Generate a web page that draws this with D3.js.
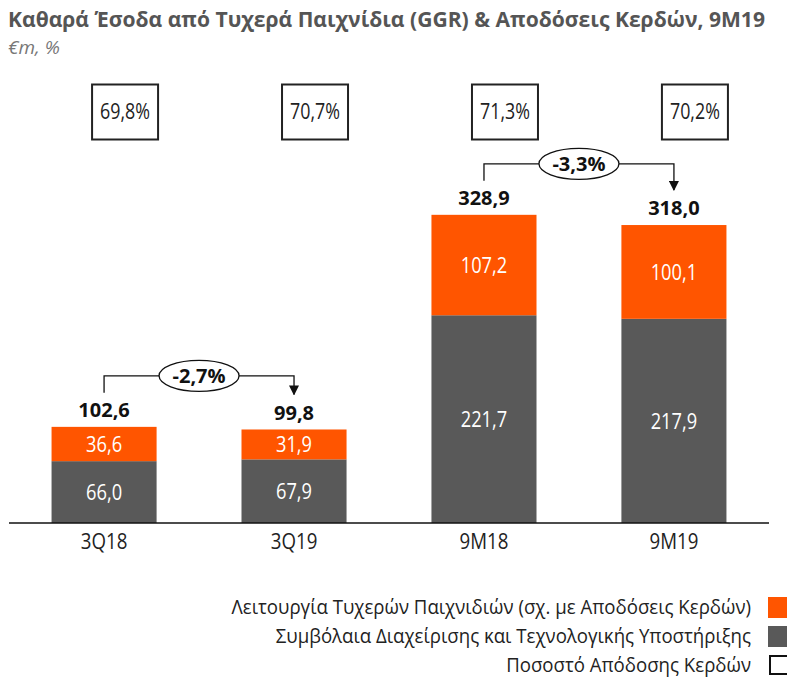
<!DOCTYPE html>
<html>
<head>
<meta charset="utf-8">
<script src="https://cdn.jsdelivr.net/npm/d3@7"></script>
<style>
  body { margin: 0; background: #fff; }
  text { font-family: "Open Sans", "Noto Sans", sans-serif; }
</style>
</head>
<body>
<div id="chart"></div>
<script>
// data
const categories = ["3Q18", "3Q19", "9M18", "9M19"];
const techValues = [66.0, 67.9, 221.7, 217.9];     // Συμβόλαια Διαχείρισης...
const gamingValues = [36.6, 31.9, 107.2, 100.1];   // Λειτουργία Τυχερών Παιχνιδιών
const totals = [102.6, 99.8, 328.9, 318.0];
const payoutPct = ["69,8%", "70,7%", "71,3%", "70,2%"];
const changes = [
  { from: 0, to: 1, label: "-2,7%" },
  { from: 2, to: 3, label: "-3,3%" }
];
const legendItems = [
  { label: "Λειτουργία Τυχερών Παιχνιδιών (σχ. με Αποδόσεις Κερδών)", type: "gaming" },
  { label: "Συμβόλαια Διαχείρισης και Τεχνολογικής Υποστήριξης", type: "tech" },
  { label: "Ποσοστό Απόδοσης Κερδών", type: "box" }
];

const fmt = v => v.toFixed(1).replace(".", ",");
const orange = "#FF5500", grey = "#595959";

// the source font is narrow, so squeeze the regular texts a bit
function squeeze(sel, k) {
  sel.each(function() {
    const w = this.getComputedTextLength();
    d3.select(this).attr("textLength", w * k).attr("lengthAdjust", "spacingAndGlyphs");
  });
}

const width = 787, height = 677;
const baseY = 523;

const svg = d3.select("#chart").append("svg")
    .attr("width", width)
    .attr("height", height);

// title
svg.append("text")
    .attr("x", 8).attr("y", 27)
    .attr("font-size", 20.5).attr("font-weight", "bold")
    .attr("fill", "#555")
    .attr("textLength", 757).attr("lengthAdjust", "spacingAndGlyphs")
    .text("Καθαρά Έσοδα από Τυχερά Παιχνίδια (GGR) & Αποδόσεις Κερδών, 9M19");
svg.append("text")
    .attr("x", 8).attr("y", 54)
    .attr("font-size", 19).attr("font-style", "italic")
    .attr("fill", "#777")
    .text("€m, %");

const x = d3.scaleBand()
    .domain(categories)
    .range([9, 769])
    .paddingInner(0.447)
    .paddingOuter(0.224);

const y = d3.scaleLinear()
    .domain([0, 350])
    .range([baseY, baseY - 350 * 0.937]);

const rows = categories.map((c, i) => ({
  cat: c, tech: techValues[i], gaming: gamingValues[i], total: totals[i], pct: payoutPct[i]
}));
const cx = d => x(d.cat) + x.bandwidth() / 2;

const bars = svg.append("g");
// grey segment
bars.selectAll(".tech").data(rows).join("rect")
    .attr("x", d => x(d.cat))
    .attr("width", x.bandwidth())
    .attr("y", d => y(d.tech))
    .attr("height", d => y(0) - y(d.tech))
    .attr("fill", grey);
// orange segment
bars.selectAll(".gaming").data(rows).join("rect")
    .attr("x", d => x(d.cat))
    .attr("width", x.bandwidth())
    .attr("y", d => y(d.tech + d.gaming))
    .attr("height", d => y(d.tech) - y(d.tech + d.gaming))
    .attr("fill", orange);

// segment labels
bars.selectAll(".tl").data(rows).join("text")
    .attr("x", cx)
    .attr("y", d => y(d.tech / 2))
    .attr("dy", "0.36em")
    .attr("text-anchor", "middle")
    .attr("font-size", 22).attr("fill", "#fff")
    .text(d => fmt(d.tech))
    .call(squeeze, 0.83);
bars.selectAll(".gl").data(rows).join("text")
    .attr("x", cx)
    .attr("y", d => y(d.tech + d.gaming / 2))
    .attr("dy", "0.36em")
    .attr("text-anchor", "middle")
    .attr("font-size", 22).attr("fill", "#fff")
    .text(d => fmt(d.gaming))
    .call(squeeze, 0.83);

// totals
bars.selectAll(".tot").data(rows).join("text")
    .attr("x", cx)
    .attr("y", d => y(d.total) - 17)
    .attr("dy", "0.36em")
    .attr("text-anchor", "middle")
    .attr("font-size", 20).attr("font-weight", "bold").attr("fill", "#111")
    .text(d => fmt(d.total));

// payout boxes
const boxes = svg.append("g").selectAll("g").data(rows).join("g")
    .attr("transform", d => `translate(${cx(d) + 21},111.5)`);
boxes.append("rect")
    .attr("x", -33).attr("y", -27)
    .attr("width", 66).attr("height", 55)
    .attr("fill", "#fff").attr("stroke", "#222").attr("stroke-width", 2);
boxes.append("text")
    .attr("text-anchor", "middle").attr("dy", "0.36em")
    .attr("font-size", 21).attr("fill", "#222")
    .text(d => d.pct)
    .call(squeeze, 0.85);

// x axis
const axis = svg.append("g")
    .attr("transform", `translate(0,${baseY})`)
    .call(d3.axisBottom(x).tickSize(0).tickPadding(10));
axis.select(".domain").attr("d", "M9,0H769").attr("stroke", "#111").attr("stroke-width", 1.5);
axis.selectAll("text")
    .attr("font-family", "Open Sans, sans-serif")
    .attr("font-size", 22).attr("fill", "#222")
    .call(squeeze, 0.85);

// change arrows
svg.append("defs").append("marker")
    .attr("id", "arr")
    .attr("viewBox", "0 0 10 10")
    .attr("refX", 9).attr("refY", 5)
    .attr("markerWidth", 10).attr("markerHeight", 10)
    .attr("markerUnits", "userSpaceOnUse")
    .attr("orient", "auto")
  .append("path").attr("d", "M0,0L10,5L0,10Z").attr("fill", "#111");

changes.forEach(c => {
  const a = rows[c.from], b = rows[c.to];
  const xa = cx(a), xb = cx(b);
  const ya = y(a.total) - 34, yb = y(b.total) - 35;
  const hy = Math.min(y(a.total), y(b.total)) - 51;
  const g = svg.append("g");
  g.append("path")
      .attr("d", `M${xa},${ya}V${hy}H${xb}V${yb}`)
      .attr("fill", "none").attr("stroke", "#111").attr("stroke-width", 1.3)
      .attr("marker-end", "url(#arr)");
  const mx = (xa + xb) / 2;
  g.append("ellipse")
      .attr("cx", mx).attr("cy", hy)
      .attr("rx", 40).attr("ry", 15.5)
      .attr("fill", "#fff").attr("stroke", "#111").attr("stroke-width", 1.3);
  g.append("text")
      .attr("x", mx).attr("y", hy).attr("dy", "0.36em")
      .attr("text-anchor", "middle")
      .attr("font-size", 20).attr("font-weight", "bold").attr("fill", "#111")
      .text(c.label);
});

// legend
const leg = svg.append("g").selectAll("g").data(legendItems).join("g")
    .attr("transform", (d, i) => `translate(0,${607 + i * 29})`);
leg.append("text")
    .attr("x", 751).attr("dy", "0.36em")
    .attr("text-anchor", "end")
    .attr("font-size", 19.5).attr("fill", "#222")
    .text(d => d.label)
    .call(squeeze, 0.955);
leg.append("rect")
    .attr("x", d => d.type === "box" ? 770 : 768)
    .attr("y", d => d.type === "box" ? -9 : -10)
    .attr("width", 20)
    .attr("height", d => d.type === "box" ? 18 : 21)
    .attr("fill", d => d.type === "gaming" ? orange : d.type === "tech" ? grey : "#fff")
    .attr("stroke", d => d.type === "box" ? "#111" : "none")
    .attr("stroke-width", 2);
</script>
</body>
</html>
